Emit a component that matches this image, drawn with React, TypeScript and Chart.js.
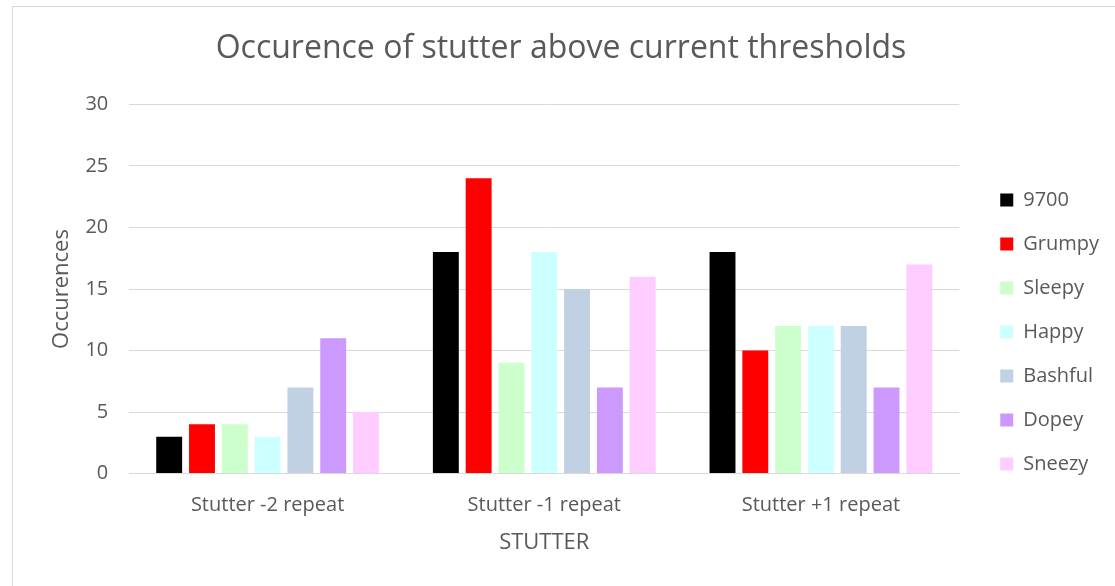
import React, { useEffect, useRef } from "react";
import { Chart, registerables } from "chart.js";

Chart.register(...registerables);

const categories = ["Stutter -2 repeat", "Stutter -1 repeat", "Stutter +1 repeat"];
const seriesNames = ["9700", "Grumpy", "Sleepy", "Happy", "Bashful", "Dopey", "Sneezy"];
const s9700 = [3, 18, 18];
const grumpy = [4, 24, 10];
const sleepy = [4, 9, 12];
const happy = [3, 18, 12];
const bashful = [7, 15, 12];
const dopey = [11, 7, 7];
const sneezy = [5, 16, 17];
const seriesValues = [s9700, grumpy, sleepy, happy, bashful, dopey, sneezy];
const seriesColors = ["#000000", "#FF0000", "#CCFFCC", "#CCFFFF", "#BFD1E3", "#CC99FF", "#FFCCFF"];
const yTicks = [0, 5, 10, 15, 20, 25, 30];

const FONT = "'Open Sans', 'DejaVu Sans', sans-serif";
const TEXT = "#595959";

export default function App() {
  const ref = useRef<HTMLCanvasElement | null>(null);
  useEffect(() => {
    if (!ref.current) return;
    const chart = new Chart(ref.current, {
      type: "bar",
      data: {
        labels: categories,
        datasets: seriesNames.map((name, i) => ({
          label: name,
          data: seriesValues[i],
          backgroundColor: seriesColors[i],
          borderColor: seriesColors[i],
          borderWidth: 0,
          categoryPercentage: 0.83,
          barPercentage: 0.79,
          yAxisID: "y",
        })),
      },
      options: {
        animation: false,
        responsive: false,
        maintainAspectRatio: false,
        layout: { padding: { left: 0, right: 6, top: 0, bottom: 26 } },
        plugins: {
          title: {
            display: true,
            text: "Occurence of stutter above current thresholds",
            color: TEXT,
            font: { family: FONT, size: 32, weight: "normal" },
            padding: { top: 23, bottom: 36 },
          },
          legend: {
            position: "right",
            align: "start",
            title: {
              display: true,
              text: "",
              font: { family: FONT, size: 10 },
              padding: { top: 147, bottom: 0 },
            },
            labels: {
              color: TEXT,
              font: { family: FONT, size: 20 },
              boxWidth: 13,
              boxHeight: 13,
              padding: 24,
            },
          },
          tooltip: { enabled: false },
        },
        scales: {
          x: {
            grid: { display: false, drawTicks: false },
            border: { display: true, color: "#D9D9D9", width: 1 },
            ticks: { color: TEXT, font: { family: FONT, size: 20 }, padding: 20 },
            title: {
              display: true,
              text: "STUTTER",
              color: TEXT,
              font: { family: FONT, size: 22 },
              padding: { top: -8, bottom: 4 },
            },
          },
          y: {
            min: 0,
            max: 30,
            afterBuildTicks: (axis: any) => {
              axis.ticks = yTicks.map((v) => ({ value: v }));
            },
            grid: { color: "#D9D9D9", drawTicks: false },
            border: { display: false },
            ticks: { color: TEXT, font: { family: FONT, size: 20 }, padding: 21 },
            title: {
              display: true,
              text: "Occurences",
              color: TEXT,
              font: { family: FONT, size: 22 },
              padding: { top: 36, bottom: -11 },
            },
          },
          gap: {
            type: "linear",
            position: "right",
            display: true,
            grid: { display: false, drawTicks: false },
            border: { display: false },
            ticks: { display: false },
            afterFit: (s: any) => {
              s.width = 17;
            },
          },
        },
      },
    });
    return () => chart.destroy();
  }, []);
  return (
    <div
      style={{
        position: "absolute",
        left: 12,
        top: 6,
        width: 1103,
        height: 580,
        borderLeft: "1px solid #D9D9D9",
        borderTop: "1px solid #D9D9D9",
        background: "#fff",
      }}
    >
      <canvas ref={ref} width={1102} height={579} style={{ display: "block" }} />
    </div>
  );
}
